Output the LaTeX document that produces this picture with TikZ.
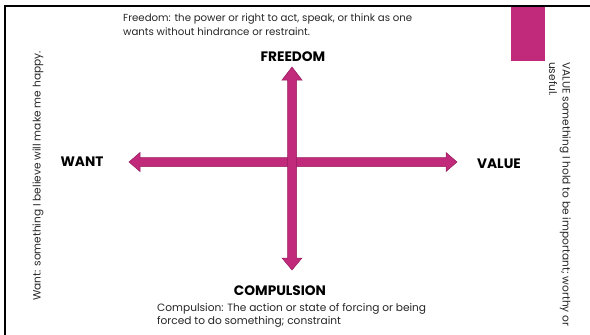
\documentclass[tikz,border=0pt]{standalone}
\usepackage{fontspec}
\setmainfont{Poppins}
\usetikzlibrary{calc}
\definecolor{mag}{RGB}{193,41,122}
\definecolor{magedge}{RGB}{150,28,95}
\begin{document}
\begin{tikzpicture}[x=1pt,y=-1pt,
  deftext/.style={font=\fontsize{10.6}{13.5}\selectfont, align=left, inner sep=0pt, text=black!85},
  label/.style={font=\fontsize{13.7}{15}\selectfont\bfseries, inner sep=0pt},
  arrowshape/.style={fill=mag, draw=magedge, line width=0.5pt, line join=miter}]
\useasboundingbox (0,0) rectangle (590,335);
% frame
\draw[line width=2pt] (590,6) -- (5,6) -- (5,335);
% magenta bar
\fill[mag] (511,7) rectangle (545,61);
% horizontal double arrow
\coordinate (hl) at (129,162);
\coordinate (hr) at (457,162);
\draw[arrowshape] (hl) -- ++(11,-9.5) -- ++(0,5) -- ($(hr)+(-11,-4.5)$) -- ++(0,-5) -- (hr) -- ++(-11,9.5) -- ++(0,-5) -- ($(hl)+(11,4.5)$) -- ++(0,5) -- cycle;
% vertical double arrow
\coordinate (vt) at (292,67);
\coordinate (vb) at (292,270);
\draw[arrowshape] (vt) -- ++(10,13) -- ++(-5.5,0) -- ($(vb)+(4.5,-12)$) -- ++(5.5,0) -- (vb) -- ++(-10,-12) -- ++(5.5,0) -- ($(vt)+(-4.5,13)$) -- ++(-5.5,0) -- cycle;
% labels
\node[label] (freedom) at (293,57) {FREEDOM};
\node[label] (compulsion) at (280,291) {COMPULSION};
\node[label] (want) at (82,162) {WANT};
\node[label] (value) at (499,164) {VALUE};
% definitions
\node[deftext, font=\fontsize{10.2}{13.5}\selectfont, anchor=north west] (fdef) at (123,14) {Freedom: the power or right to act, speak, or think as one\\wants without hindrance or restraint.};
\node[deftext, anchor=north west] (cdef) at (157,303) {Compulsion: The action or state of forcing or being\\forced to do something; constraint};
\node[deftext, rotate=90] (wdef) at (38,176) {Want: something I believe will make me happy.};
\node[deftext, rotate=-90, anchor=north west] (vdef) at (571,62) {VALUE something I hold to be important; worthy or\\useful.};
\end{tikzpicture}
\end{document}
